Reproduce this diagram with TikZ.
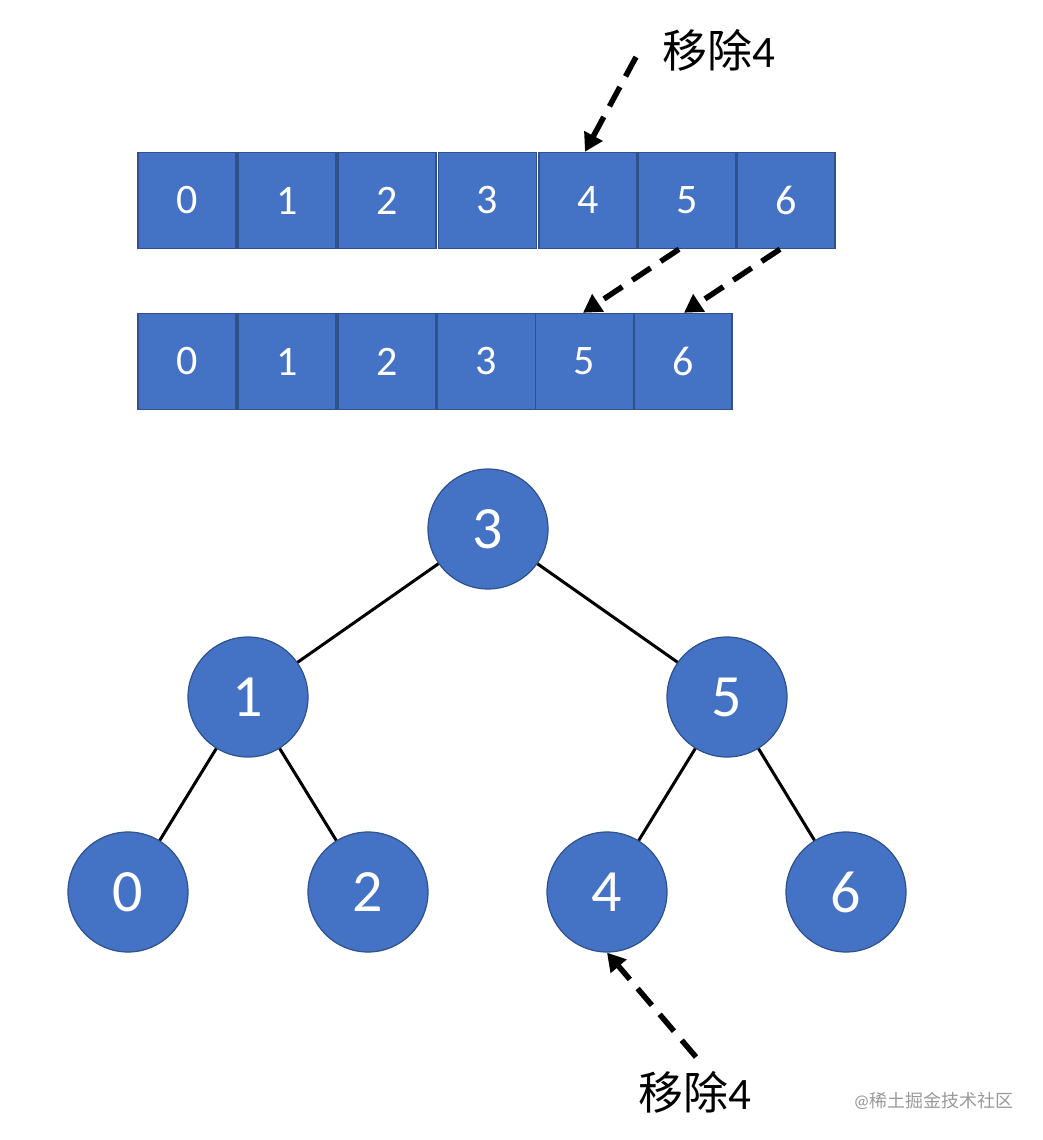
\documentclass[tikz,border=0pt]{standalone}
\usepackage{fontspec}
\setmainfont{Carlito}
\newfontfamily\cjk{Noto Sans CJK SC}
\usetikzlibrary{arrows.meta}
\definecolor{cellfill}{HTML}{4472C4}
\definecolor{celldraw}{HTML}{2F528F}
\begin{document}
\begin{tikzpicture}[x=1pt,y=-1pt,
  cellbox/.style={draw=celldraw,fill=cellfill,line width=1.5pt,minimum width=98pt,minimum height=96pt,inner sep=0pt,text=white,font=\fontsize{42}{42}\selectfont},
  treenode/.style={circle,draw=celldraw,fill=cellfill,line width=1.2pt,minimum size=120pt,inner sep=0pt,text=white,font=\fontsize{60}{60}\selectfont},
  edge/.style={line width=3pt,black},
  moveptr/.style={line width=5.5pt,black,dash pattern=on 22pt off 12pt,-{Triangle[width=20pt,length=18pt]}},
  lbl/.style={font=\fontsize{45}{45}\selectfont,inner sep=0pt}]
\useasboundingbox (0,0) rectangle (1042,1140);
% top array
\foreach \i/\x in {0/187,1/287,2/387,3/487.5,4/588,5/687,6/786}{
  \node[cellbox] (a\i) at (\x,200.5) {\i};
}
% second array
\foreach \i/\v/\x in {0/0/187,1/1/287,2/2/387,3/3/486.5,4/5/584.5,5/6/683}{
  \node[cellbox] (b\i) at (\x,361.5) {\v};
}
% tree
\node[treenode] (t3) at (488,529) {3};
\node[treenode] (t1) at (248,697) {1};
\node[treenode] (t5) at (727,697) {5};
\node[treenode] (t0) at (128,892) {0};
\node[treenode] (t2) at (368,892) {2};
\node[treenode] (t4) at (607,892) {4};
\node[treenode] (t6) at (846,892) {6};
\draw[edge] (t3) -- (t1);
\draw[edge] (t3) -- (t5);
\draw[edge] (t1) -- (t0);
\draw[edge] (t1) -- (t2);
\draw[edge] (t5) -- (t4);
\draw[edge] (t5) -- (t6);
% labels
\node[lbl,anchor=west] (top) at (662,50) {{\cjk 移除}4};
\node[lbl,anchor=west] (bot) at (638,1092) {{\cjk 移除}4};
\node[anchor=east,inner sep=0pt,text=black!40,font=\fontsize{18}{18}\selectfont] (wm) at (1014,1101) {@{\cjk 稀土掘金技术社区}};
% pointers
\coordinate (ts) at (636,57);
\coordinate (bs) at (696,1057);
\draw[moveptr] (ts) -- ([xshift=-3pt]a4.north);
\draw[moveptr] ([xshift=-8pt]a5.south) -- ([xshift=-1.5pt]b4.north);
\draw[moveptr] ([xshift=-6pt]a6.south) -- ([xshift=1pt]b5.north);
\draw[moveptr] (bs) -- (t4.south);
\end{tikzpicture}
\end{document}
